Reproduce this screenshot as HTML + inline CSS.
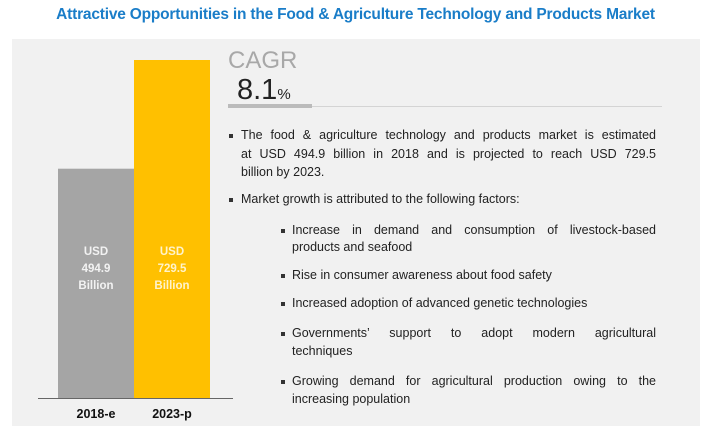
<!DOCTYPE html>
<html><head><meta charset="utf-8"><style>
body{margin:0;width:711px;height:432px;background:#fff;position:relative;overflow:hidden;font-family:"Liberation Sans",sans-serif}
.a{position:absolute}
.t{position:absolute;font-size:12.5px;color:#222;white-space:nowrap;line-height:15px}
.j{text-align:justify;text-align-last:justify}
.b{position:absolute;width:4px;height:4px;background:#333}
</style></head><body>
<div class="a" style="left:0;width:711px;top:6px;text-align:center;font-size:15.5px;font-weight:bold;color:#1a7dc8;letter-spacing:-0.2px">Attractive Opportunities in the Food &amp; Agriculture Technology and Products Market</div>
<div class="a" style="left:12px;top:39px;width:688px;height:387px;background:#f1f1f1"></div>
<svg class="a" style="left:0;top:0" width="240" height="432" id="chart"></svg>
<div class="a" style="left:228px;top:47px;font-size:24px;color:#a8a8a8">CAGR</div>
<div class="a" style="left:237px;top:74px;font-size:29px;color:#222">8.1<span style="font-size:15px">%</span></div>
<div class="a" style="left:228px;top:104px;width:84px;height:4px;background:#bbb"></div>
<div class="a" style="left:312px;top:106px;width:350px;height:1px;background:#d4d4d4"></div>

<div class="b" style="left:229px;top:134px"></div>
<div class="t j" style="left:241px;top:128px;width:415px">The food &amp; agriculture technology and products market is estimated</div>
<div class="t j" style="left:241px;top:147px;width:415px">at USD 494.9 billion in 2018 and is projected to reach USD 729.5</div>
<div class="t" style="left:241px;top:165px">billion by 2023.</div>
<div class="b" style="left:229px;top:198px"></div>
<div class="t" style="left:241px;top:192px">Market growth is attributed to the following factors:</div>

<div class="b" style="left:281px;top:229px"></div>
<div class="t j" style="left:292px;top:223px;width:364px">Increase in demand and consumption of livestock-based</div>
<div class="t" style="left:292px;top:240px">products and seafood</div>
<div class="b" style="left:281px;top:274px"></div>
<div class="t" style="left:292px;top:268px">Rise in consumer awareness about food safety</div>
<div class="b" style="left:281px;top:302px"></div>
<div class="t" style="left:292px;top:296px">Increased adoption of advanced genetic technologies</div>
<div class="b" style="left:281px;top:332px"></div>
<div class="t j" style="left:292px;top:326px;width:364px">Governments’ support to adopt modern agricultural</div>
<div class="t" style="left:292px;top:344px">techniques</div>
<div class="b" style="left:281px;top:380px"></div>
<div class="t j" style="left:292px;top:374px;width:364px">Growing demand for agricultural production owing to the</div>
<div class="t" style="left:292px;top:392px">increasing population</div>

<script>
const categories=["2018-e","2023-p"];
const values=[494.9,729.5];
const valueLabels=["494.9","729.5"];
const colors=["#a5a5a5","#ffc000"];
const svg=document.getElementById('chart');
const NS="http://www.w3.org/2000/svg";
const base=398, maxV=729.5, maxH=338;
function y(v){return base-v/maxV*maxH;}
function x(i){return 58+i*76;}
const bw=76;
values.forEach((v,i)=>{
  const r=document.createElementNS(NS,'rect');
  r.setAttribute('x',x(i));r.setAttribute('y',y(v));r.setAttribute('width',bw);r.setAttribute('height',base-y(v));r.setAttribute('fill',colors[i]);
  
  
  svg.appendChild(r);
  ["USD",valueLabels[i],"Billion"].forEach((s,k)=>{
    const t=document.createElementNS(NS,'text');
    t.setAttribute('x',x(i)+bw/2);t.setAttribute('y',255+k*17);t.setAttribute('text-anchor','middle');
    t.setAttribute('font-size','11.5');t.setAttribute('font-weight','bold');t.setAttribute('fill',i==0?'#f2f2f2':'#fff3cc');
    t.textContent=s;
    
    
    svg.appendChild(t);
  });
  const c=document.createElementNS(NS,'text');
  c.setAttribute('x',x(i)+bw/2);c.setAttribute('y',418);c.setAttribute('text-anchor','middle');
  c.setAttribute('font-size','12.5');c.setAttribute('font-weight','bold');c.setAttribute('fill','#111');
  c.textContent=categories[i];
  
  
  svg.appendChild(c);
});
const ax=document.createElementNS(NS,'line');
ax.setAttribute('x1',38);ax.setAttribute('x2',233);ax.setAttribute('y1',base+0.5);ax.setAttribute('y2',base+0.5);ax.setAttribute('stroke','#666');


svg.appendChild(ax);
</script>
</body></html>
